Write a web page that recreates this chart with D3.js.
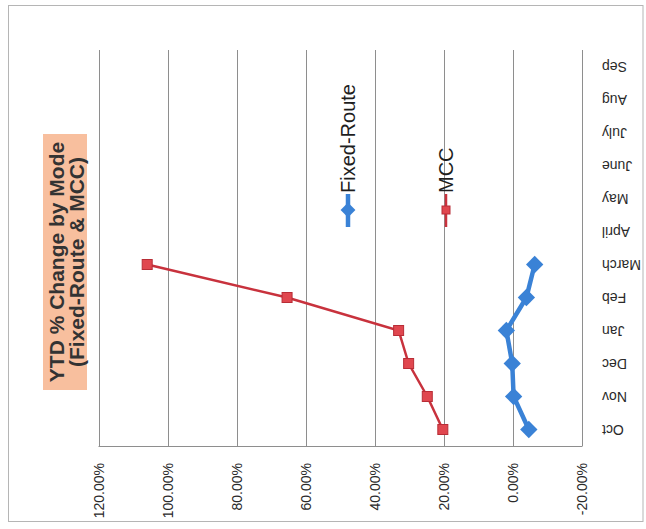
<!DOCTYPE html>
<html>
<head>
<meta charset="utf-8">
<script src="https://cdn.jsdelivr.net/npm/d3@7"></script>
<style>
  html, body { margin: 0; padding: 0; background: #fff; }
  svg { display: block; }
  text { font-family: "Liberation Sans", Arial, sans-serif; }
</style>
</head>
<body>
<svg id="chart" width="646" height="529"></svg>
<script>
// YTD % change by mode, plotted with the category axis running bottom-to-top
const months = ["Oct", "Nov", "Dec", "Jan", "Feb", "March", "April", "May", "June", "July", "Aug", "Sep"];
const fixedRoute = [-4.6, -0.2, 0.2, 1.9, -3.9, -6.3];   // % change, Oct..March
const mcc = [20.3, 24.8, 30.2, 33.1, 65.4, 105.9];        // % change, Oct..March
const tickValues = [120, 100, 80, 60, 40, 20, 0, -20];
const titleLines = ["YTD % Change by Mode", "(Fixed-Route & MCC)"];
const seriesNames = ["Fixed-Route", "MCC"];

const svg = d3.select("#chart");

const plot = { left: 98.5, right: 582, top: 50, bottom: 446 };

const x = d3.scaleLinear().domain([120, -20]).range([plot.left, plot.right]);
const y = d3.scaleBand().domain(months).range([plot.bottom, plot.top]);
const cy = m => y(m) + y.bandwidth() / 2;

const blue = "#3a82d6";
const redLine = "#c8323d";
const redFill = "#e0474f";

// outer chart frame
svg.append("rect")
  .attr("x", 8.5).attr("y", 5.5).attr("width", 634.5).attr("height", 516)
  .attr("fill", "#fff").attr("stroke", "#b5b5b5").attr("stroke-width", 1);

// vertical gridlines at each value tick
svg.append("g").selectAll("line").data(tickValues).join("line")
  .attr("x1", d => Math.round(x(d)) + 0.5).attr("x2", d => Math.round(x(d)) + 0.5)
  .attr("y1", plot.top).attr("y2", plot.bottom)
  .attr("stroke", "#8e8e8e").attr("stroke-width", 1);

// bottom edge of the plot area
svg.append("line")
  .attr("x1", plot.left).attr("x2", plot.right + 0.5)
  .attr("y1", plot.bottom + 0.5).attr("y2", plot.bottom + 0.5)
  .attr("stroke", "#8e8e8e").attr("stroke-width", 1);

// value axis labels, rotated to read upward
const axis = d3.axisBottom(x).tickValues(tickValues).tickSize(0)
  .tickFormat(d => d.toFixed(2) + "%");
const gAxis = svg.append("g").attr("transform", `translate(0,${plot.bottom})`).call(axis);
gAxis.select(".domain").remove();
gAxis.selectAll("text")
  .attr("font-size", 14).attr("fill", "#2a2a2a")
  .attr("font-family", "Liberation Sans, Arial, sans-serif")
  .attr("text-anchor", "end")
  .attr("dy", "0.35em").attr("y", 0).attr("x", -17)
  .attr("transform", "rotate(-90)");

// category labels, drawn upside down to the right of the plot
svg.append("g").selectAll("text").data(months).join("text")
  .attr("x", 602).attr("y", d => cy(d))
  .attr("text-anchor", "end")
  .attr("dy", "0.35em")
  .attr("font-size", 14).attr("fill", "#2a2a2a")
  .attr("transform", d => `rotate(180,602,${cy(d)})`)
  .text(d => d);

const line = d3.line().x(d => x(d.v)).y(d => cy(d.m));
const mccData = mcc.map((v, i) => ({ m: months[i], v }));
const frData = fixedRoute.map((v, i) => ({ m: months[i], v }));

// MCC series
svg.append("path").datum(mccData)
  .attr("d", line).attr("fill", "none")
  .attr("stroke", redLine).attr("stroke-width", 2.5);
svg.append("g").selectAll("rect").data(mccData).join("rect")
  .attr("x", d => x(d.v) - 5).attr("y", d => cy(d.m) - 5)
  .attr("width", 10).attr("height", 10)
  .attr("fill", redFill).attr("stroke", "#b82d36").attr("stroke-width", 1);

// Fixed-Route series
svg.append("path").datum(frData)
  .attr("d", line).attr("fill", "none")
  .attr("stroke", blue).attr("stroke-width", 4.5);
const diamond = d3.symbol(d3.symbolSquare, 150);
svg.append("g").selectAll("path").data(frData).join("path")
  .attr("d", diamond)
  .attr("transform", d => `translate(${x(d.v)},${cy(d.m)}) rotate(45)`)
  .attr("fill", blue);

// legend
const legend = [
  { name: seriesNames[0], xc: 348, color: blue, width: 4.5 },
  { name: seriesNames[1], xc: 446, color: redLine, width: 2.5 }
];
const lg = svg.append("g").selectAll("g").data(legend).join("g");
lg.append("line")
  .attr("x1", d => d.xc).attr("x2", d => d.xc)
  .attr("y1", 194).attr("y2", 227)
  .attr("stroke", d => d.color).attr("stroke-width", d => d.width);
lg.filter((d, i) => i === 0).append("path")
  .attr("d", d3.symbol(d3.symbolSquare, 110))
  .attr("transform", d => `translate(${d.xc},210) rotate(45)`)
  .attr("fill", blue);
lg.filter((d, i) => i === 1).append("rect")
  .attr("x", d => d.xc - 4).attr("y", 206).attr("width", 8).attr("height", 8)
  .attr("fill", redFill).attr("stroke", "#b82d36");
lg.append("text")
  .attr("x", d => d.xc).attr("y", 193)
  .attr("dy", "0.35em")
  .attr("font-size", 20).attr("fill", "#1e1e1e")
  .attr("transform", d => `rotate(-90,${d.xc},193)`)
  .text(d => d.name);

// title box
svg.append("rect")
  .attr("x", 43).attr("y", 134).attr("width", 44).attr("height", 256)
  .attr("fill", "#f8bf9e");
svg.append("g").selectAll("text").data(titleLines).join("text")
  .attr("x", (d, i) => 57 + i * 20).attr("y", 262)
  .attr("dy", "0.35em")
  .attr("text-anchor", "middle")
  .attr("font-size", 21).attr("font-weight", "bold").attr("fill", "#333")
  .attr("transform", (d, i) => `rotate(-90,${57 + i * 20},262)`)
  .text(d => d);
</script>
</body>
</html>
